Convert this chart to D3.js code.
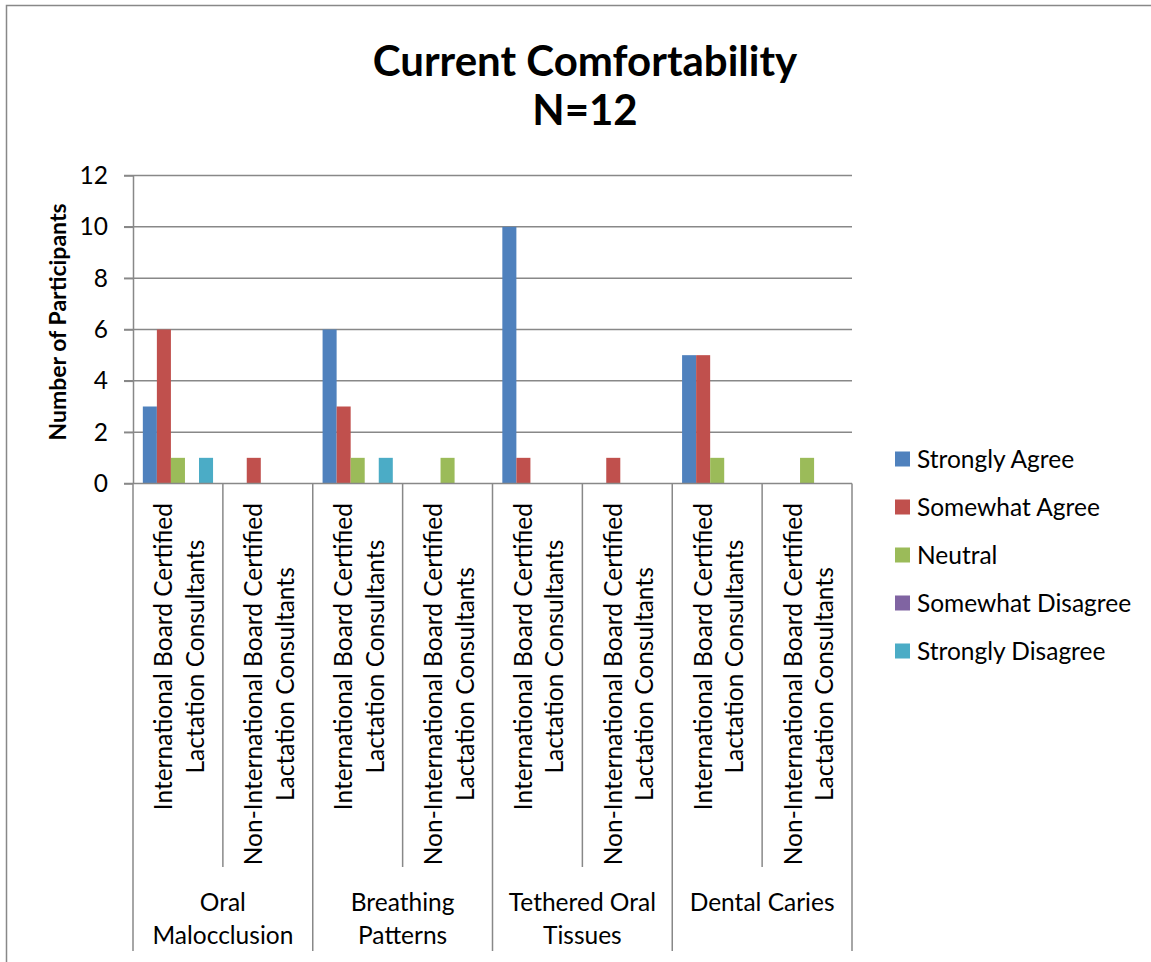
<!DOCTYPE html>
<html>
<head>
<meta charset="utf-8">
<script src="https://cdn.jsdelivr.net/npm/d3@7"></script>
<style>
  body { margin: 0; background: #fff; }
  svg { display: block; font-family: Lato, "Open Sans", sans-serif; }
</style>
</head>
<body>
<svg id="chart" width="1151" height="962"></svg>
<script>
// categories
var groups = ["Oral Malocclusion", "Breathing Patterns", "Tethered Oral Tissues", "Dental Caries"];
var groupLines = [["Oral", "Malocclusion"], ["Breathing", "Patterns"], ["Tethered Oral", "Tissues"], ["Dental Caries"]];
var subs = ["IBCLC", "Non-IBCLC"];
var subLines = [["International Board Certified", "Lactation Consultants"],
                ["Non-International Board Certified", "Lactation Consultants"]];

// series, one value per group x sub (8 columns)
var seriesNames = ["Strongly Agree", "Somewhat Agree", "Neutral", "Somewhat Disagree", "Strongly Disagree"];
var stronglyAgree     = [3, 0, 6, 0, 10, 0, 5, 0];
var somewhatAgree     = [6, 1, 3, 0, 1, 1, 5, 0];
var neutral           = [1, 0, 1, 1, 0, 0, 1, 1];
var somewhatDisagree  = [0, 0, 0, 0, 0, 0, 0, 0];
var stronglyDisagree  = [1, 0, 1, 0, 0, 0, 0, 0];
var yTicks = [0, 2, 4, 6, 8, 10, 12];

var seriesValues = [stronglyAgree, somewhatAgree, neutral, somewhatDisagree, stronglyDisagree];
var colors = ["#4F81BD", "#C0504D", "#9BBB59", "#8064A2", "#4BACC6"];
var gridColor = "#888888";
var fontSize = 24.5;

var svg = d3.select("#chart");
var plotLeft = 133, plotRight = 852, plotTop = 175.5, plotBottom = 483.5;

// chart border (right and bottom run off the picture)
svg.append("rect")
  .attr("x", 6.5).attr("y", 5.5)
  .attr("width", 1300).attr("height", 1100)
  .attr("fill", "none")
  .attr("stroke", gridColor)
  .attr("stroke-width", 1.5);

// title
svg.append("text")
  .attr("x", 585).attr("y", 76)
  .attr("text-anchor", "middle")
  .attr("font-size", 42).attr("font-weight", "bold")
  .text("Current Comfortability");
svg.append("text")
  .attr("x", 585).attr("y", 125)
  .attr("text-anchor", "middle")
  .attr("font-size", 42).attr("font-weight", "bold")
  .text("N=12");

// columns
var columns = [];
groups.forEach(function(g, gi){
  subs.forEach(function(s, si){
    columns.push({group: g, sub: s, idx: gi * subs.length + si});
  });
});

var x0 = d3.scaleBand()
  .domain(columns.map(function(d){ return d.idx; }))
  .range([plotLeft, plotRight]);

var xGroup = d3.scaleBand()
  .domain(groups)
  .range([plotLeft, plotRight]);

var x1 = d3.scaleBand()
  .domain(seriesNames)
  .range([0, x0.bandwidth()])
  .paddingOuter(0.7);

var y = d3.scaleLinear()
  .domain([0, 12])
  .range([plotBottom, plotTop]);

// gridlines
svg.append("g")
  .selectAll("line")
  .data(yTicks.filter(function(t){ return t > 0; }))
  .enter().append("line")
    .attr("x1", plotLeft - 9).attr("x2", plotRight)
    .attr("y1", function(d){ return y(d); })
    .attr("y2", function(d){ return y(d); })
    .attr("stroke", gridColor)
    .attr("stroke-width", 1.5);

// y axis
var yAxis = d3.axisLeft(y)
  .tickValues(yTicks)
  .tickSize(9)
  .tickSizeOuter(0)
  .tickPadding(16);

var yAxisG = svg.append("g")
  .attr("transform", "translate(" + plotLeft + ",0)")
  .call(yAxis);
yAxisG.selectAll("path, line").attr("stroke", gridColor).attr("stroke-width", 1.5);
yAxisG.selectAll("text").attr("font-size", fontSize).attr("font-family", "Lato").attr("fill", "#000");

// y label
svg.append("text")
  .attr("transform", "translate(66,322) rotate(-90)")
  .attr("text-anchor", "middle")
  .attr("font-size", 23).attr("font-weight", "bold")
  .text("Number of Participants");

// bars
var barData = [];
columns.forEach(function(c){
  seriesNames.forEach(function(s, si){
    barData.push({col: c.idx, series: s, value: seriesValues[si][c.idx], color: colors[si]});
  });
});

svg.append("g")
  .selectAll("rect")
  .data(barData)
  .enter().append("rect")
    .attr("x", function(d){ return x0(d.col) + x1(d.series); })
    .attr("y", function(d){ return y(d.value); })
    .attr("width", x1.bandwidth())
    .attr("height", function(d){ return y(0) - y(d.value); })
    .attr("fill", function(d){ return d.color; });

// x axis line
svg.append("line")
  .attr("x1", plotLeft - 9).attr("x2", plotRight)
  .attr("y1", plotBottom).attr("y2", plotBottom)
  .attr("stroke", gridColor).attr("stroke-width", 1.5);

// dividers: sub-level and group-level
var subBottom = 867, groupBottom = 951;
var dividers = d3.range(columns.length + 1).map(function(i){
  return {x: plotLeft + i * x0.step(), isGroup: i % subs.length === 0};
});
svg.append("g")
  .selectAll("line")
  .data(dividers)
  .enter().append("line")
    .attr("x1", function(d){ return d.x; })
    .attr("x2", function(d){ return d.x; })
    .attr("y1", plotBottom)
    .attr("y2", function(d){ return d.isGroup ? groupBottom : subBottom; })
    .attr("stroke", gridColor)
    .attr("stroke-width", 1.5);

// rotated sub labels
var subLabel = svg.append("g")
  .selectAll("g")
  .data(columns)
  .enter().append("g");

subLabel.each(function(d){
  var lines = subLines[subs.indexOf(d.sub)];
  var t = d3.select(this).append("text")
    .attr("font-size", fontSize)
    .attr("text-anchor", "middle");
  t.selectAll("tspan")
    .data(lines)
    .enter().append("tspan")
      .attr("x", 0)
      .attr("y", function(l, i){ return -5.5 + i * 31.5; })
      .text(function(l){ return l; });
  // centre block on its longest line, top end at y=503
  var w = t.select("tspan").node().getComputedTextLength();
  var cx = x0(d.idx) + x0.bandwidth() / 2;
  d3.select(this).attr("transform", "translate(" + cx + "," + (503 + w / 2) + ") rotate(-90)");
});

// group labels
var groupLabel = svg.append("g")
  .selectAll("text")
  .data(groups)
  .enter().append("text")
    .attr("font-size", fontSize)
    .attr("text-anchor", "middle");
groupLabel.selectAll("tspan")
  .data(function(g){ return groupLines[groups.indexOf(g)].map(function(l){ return {g: g, l: l}; }); })
  .enter().append("tspan")
    .attr("x", function(d){ return xGroup(d.g) + xGroup.bandwidth() / 2; })
    .attr("y", function(d, i){ return 910.5 + i * 33; })
    .text(function(d){ return d.l; });

// legend
var legend = svg.append("g")
  .selectAll("g")
  .data(seriesNames)
  .enter().append("g")
    .attr("transform", function(d, i){ return "translate(895," + (459 + i * 48) + ")"; });
legend.append("rect")
  .attr("x", 0).attr("y", -7.5)
  .attr("width", 15).attr("height", 15)
  .attr("fill", function(d, i){ return colors[i]; });
legend.append("text")
  .attr("x", 22).attr("y", 8.8)
  .attr("font-size", fontSize)
  .text(function(d){ return d; });
</script>
</body>
</html>
